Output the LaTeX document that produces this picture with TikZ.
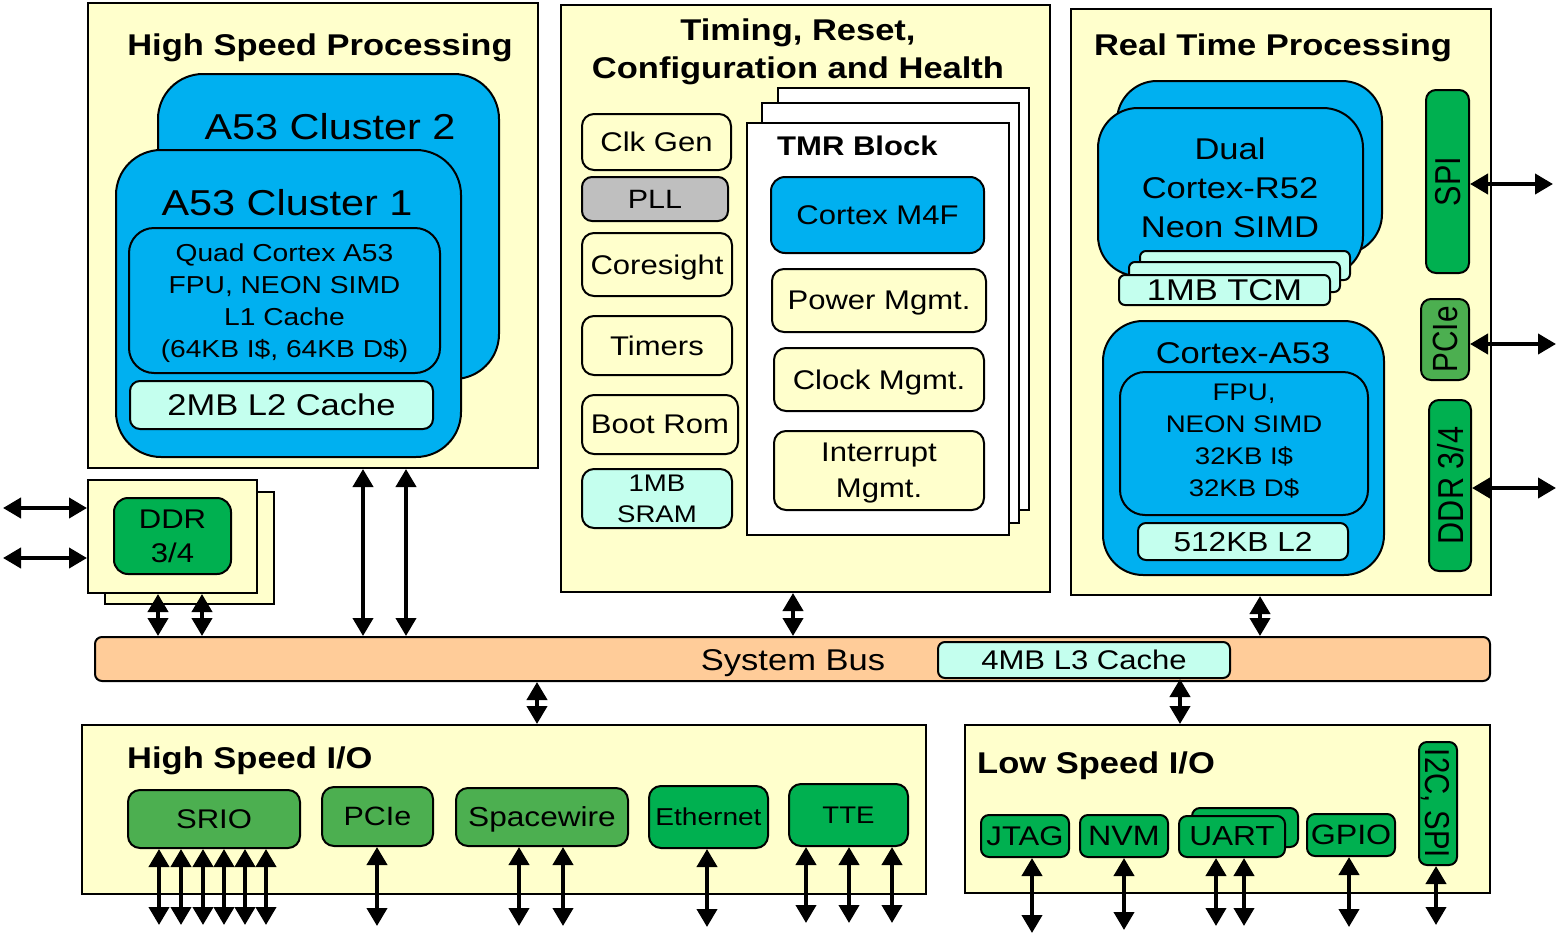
\documentclass[tikz,border=0pt]{standalone}
\usepackage{fontspec}
\setmainfont{Liberation Sans}[FakeStretch=1.15]
\newfontfamily\vfont{Liberation Sans}[FakeStretch=0.85]
\usetikzlibrary{fit,arrows.meta}
\definecolor{ylw}{RGB}{255,255,204}
\definecolor{blu}{RGB}{0,176,240}
\definecolor{cyn}{RGB}{196,255,238}
\definecolor{pch}{RGB}{255,204,153}
\definecolor{grnA}{RGB}{0,176,80}
\definecolor{grnB}{RGB}{76,175,80}
\definecolor{gry}{RGB}{191,191,191}
\newcommand\fsz[2]{\fontsize{#1}{#2}\selectfont}
% box node from corners, with its text in a separate centred node
\newcommand\bx[5]{\node[#1,fit={#2}] (#3) {};\node[txt,font=#4] (#3-t) at (#3.center) {#5};}
% same, with text turned by an angle
\newcommand\vbx[6]{\node[#1,fit={#2}] (#3) {};\node[txt,rotate=#4,font=#5] (#3-t) at (#3.center) {#6};}
\begin{document}
\begin{tikzpicture}[x=1pt,y=-1pt,
  base/.style={draw=black,line width=2pt,inner sep=0pt},
  panel/.style={base,fill=ylw},
  sheet/.style={base,fill=white},
  bluebox/.style={base,fill=blu},
  cellY/.style={base,fill=ylw,rounded corners=12pt},
  cellC/.style={base,fill=cyn,rounded corners=10pt},
  cellG/.style={base,fill=grnA,rounded corners=10pt},
  cellL/.style={base,fill=grnB,rounded corners=10pt},
  txt/.style={inner sep=0pt,align=center,text depth=0pt},
  ttl/.style={txt,font=\bfseries\fsz{30}{38}},
  dbl/.style={line width=4pt,{Triangle[width=20pt,length=18pt]}-{Triangle[width=20pt,length=18pt]}},
]
\useasboundingbox (0,0) rectangle (1557,937);

% ---------------- High Speed Processing
\node[panel,fit={(88,3)(538,468)}] (hsp) {};
\node[ttl] (hspt) at (320,45) {High Speed Processing};
\node[bluebox,rounded corners=45pt,fit={(158,74)(499,379)}] (cl2) {};
\node[txt,font=\fsz{36}{40}] (cl2t) at (330,126) {A53 Cluster 2};
\node[bluebox,rounded corners=45pt,fit={(116,150)(461,457)}] (cl1) {};
\node[txt,font=\fsz{36}{40}] (cl1t) at (287,202) {A53 Cluster 1};
\bx{bluebox,rounded corners=25pt}{(129,228)(440,373)}{core}{\fsz{24.5}{32}}{Quad Cortex A53\\FPU, NEON SIMD\\L1 Cache\\(64KB I\$, 64KB D\$)}
\bx{cellC}{(130,381)(433,429)}{l2}{\fsz{30}{34}}{2MB L2 Cache}

% ---------------- DDR (left)
\node[panel,fit={(105,492)(274,604)}] (ddrb) {};
\node[panel,fit={(88,480)(257,593)}] (ddrf) {};
\bx{cellG,rounded corners=14pt}{(114,498)(231,574)}{ddr}{\fsz{27}{34}}{DDR\\3/4}

% ---------------- Timing, Reset, Configuration and Health
\node[panel,fit={(561,5)(1050,592)}] (trch) {};
\node[ttl] (trcht) at (798,49) {Timing, Reset,\\Configuration and Health};
\bx{cellY}{(582,114)(731,170)}{clk}{\fsz{27}{33}}{Clk Gen}
\bx{base,fill=gry,rounded corners=10pt}{(582,177)(728,221)}{pll}{\fsz{26.5}{33}}{PLL}
\bx{cellY}{(582,233)(732,296)}{cores}{\fsz{27}{33}}{Coresight}
\bx{cellY}{(582,316)(732,375)}{tim}{\fsz{27}{33}}{Timers}
\bx{cellY}{(582,395)(738,454)}{boot}{\fsz{27}{33}}{Boot Rom}
\bx{cellC,rounded corners=12pt}{(582,469)(732,528)}{sram}{\fsz{24}{31}}{1MB\\SRAM}
\node[sheet,fit={(778,88)(1029,510)}] (tmr3) {};
\node[sheet,fit={(762,103)(1019,523)}] (tmr2) {};
\node[sheet,fit={(747,123)(1009,535)}] (tmr1) {};
\node[txt,anchor=west,font=\bfseries\fsz{27}{33}] (tmrt) at (777,146) {TMR Block};
\bx{bluebox,rounded corners=14pt}{(771,177)(984,253)}{m4f}{\fsz{27}{33}}{Cortex M4F}
\bx{cellY}{(772,269)(986,332)}{pwr}{\fsz{27}{33}}{Power Mgmt.}
\bx{cellY}{(774,348)(984,411)}{clkm}{\fsz{27}{33}}{Clock Mgmt.}
\bx{cellY}{(774,431)(984,510)}{irq}{\fsz{27}{36}}{Interrupt\\Mgmt.}

% ---------------- Real Time Processing
\node[panel,fit={(1071,9)(1491,595)}] (rtp) {};
\node[ttl] (rtpt) at (1273,45) {Real Time Processing};
\node[bluebox,rounded corners=40pt,fit={(1117,81)(1382,254)}] (r52b) {};
\node[bluebox,rounded corners=40pt,fit={(1098,108)(1363,276)}] (r52f) {};
\node[txt,font=\fsz{30}{39}] (r52t) at (1230,188) {Dual\\Cortex-R52\\Neon SIMD};
\node[cellC,rounded corners=6pt,fit={(1140,251)(1350,280)}] (tcm3) {};
\node[cellC,rounded corners=6pt,fit={(1129,262)(1340,292)}] (tcm2) {};
\bx{cellC,rounded corners=6pt}{(1119,275)(1330,305)}{tcm1}{\fsz{30}{34}}{1MB TCM}
\node[bluebox,rounded corners=40pt,fit={(1103,321)(1384,575)}] (a53) {};
\node[txt,font=\fsz{30}{34}] (a53t) at (1243,353) {Cortex-A53};
\node[bluebox,rounded corners=25pt,fit={(1120,372)(1368,515)}] (a53i) {};
\node[txt,font=\fsz{24}{32}] (a53it) at (1244,440) {FPU,\\NEON SIMD\\32KB I\$\\32KB D\$};
\bx{cellC,rounded corners=8pt}{(1138,523)(1348,560)}{l2r}{\fsz{27.5}{32}}{512KB L2}
\vbx{cellG}{(1426,90)(1469,273)}{spi}{90}{\vfont\fsz{36}{40}}{SPI}
\vbx{cellL}{(1421,299)(1469,380)}{pcier}{90}{\vfont\fsz{35}{40}}{PCIe}
\vbx{cellG}{(1429,400)(1471,571)}{ddrr}{90}{\vfont\fsz{36}{40}}{DDR 3/4}

% ---------------- System Bus
\node[base,fill=pch,rounded corners=7pt,fit={(95,637)(1490,681)}] (bus) {};
\node[txt,font=\fsz{30}{34}] (bust) at (793,660) {System Bus};
\bx{cellC,rounded corners=7pt}{(938,642)(1230,678)}{l3}{\fsz{27}{32}}{4MB L3 Cache}

% ---------------- High Speed I/O
\node[panel,fit={(82,725)(926,894)}] (hsio) {};
\node[ttl,anchor=west] (hsiot) at (127,758) {High Speed I/O};
\bx{cellL,rounded corners=12pt}{(128,790)(300,848)}{srio}{\fsz{27}{32}}{SRIO}
\bx{cellL,rounded corners=12pt}{(322,787)(433,846)}{pcie}{\fsz{26.5}{32}}{PCIe}
\bx{cellL,rounded corners=12pt}{(456,788)(628,846)}{spw}{\fsz{27.5}{32}}{Spacewire}
\bx{cellG,rounded corners=12pt}{(649,786)(768,848)}{eth}{\fsz{24.4}{30}}{Ethernet}
\bx{cellG,rounded corners=12pt}{(789,784)(908,846)}{tte}{\fsz{24}{30}}{TTE}

% ---------------- Low Speed I/O
\node[panel,fit={(965,725)(1490,893)}] (lsio) {};
\node[ttl,anchor=west] (lsiot) at (977,763) {Low Speed I/O};
\bx{cellG,rounded corners=8pt}{(981,815)(1069,857)}{jtag}{\fsz{27}{32}}{JTAG}
\bx{cellG,rounded corners=8pt}{(1080,815)(1168,857)}{nvm}{\fsz{28}{32}}{NVM}
\node[cellG,rounded corners=8pt,fit={(1192,808)(1298,847)}] (uartb) {};
\bx{cellG,rounded corners=8pt}{(1179,816)(1285,857)}{uart}{\fsz{27.5}{32}}{UART}
\bx{cellG,rounded corners=8pt}{(1307,814)(1395,856)}{gpio}{\fsz{28}{32}}{GPIO}
\vbx{cellG,rounded corners=8pt}{(1419,742)(1457,865)}{i2c}{-90}{\vfont\fsz{34.5}{40}}{I2C, SPI}

% ---------------- Connectors
\coordinate (ddrL1) at (3,508);
\coordinate (ddrL2) at (3,558);
\draw[dbl] (ddrL1) -- (ddrL1 -| ddrf.west);
\draw[dbl] (ddrL2) -- (ddrL2 -| ddrf.west);
\draw[dbl] (158,0 |- ddrf.south) -- (158,0 |- bus.north);
\draw[dbl] (202,0 |- ddrf.south) -- (202,0 |- bus.north);
\draw[dbl] (363,0 |- hsp.south) -- (363,0 |- bus.north);
\draw[dbl] (406,0 |- hsp.south) -- (406,0 |- bus.north);
\draw[dbl] (793,0 |- trch.south) -- (793,0 |- bus.north);
\draw[dbl] (1260,0 |- rtp.south) -- (1260,0 |- bus.north);
\draw[dbl] (537,0 |- bus.south) -- (537,0 |- hsio.north);
\draw[dbl] (1180,0 |- l3.south) -- (1180,0 |- lsio.north);

\coordinate (spiE) at (1553,184);
\coordinate (pcieE) at (1556,344);
\coordinate (ddrE) at (1556,488);
\draw[dbl] (spiE -| spi.east) -- (spiE);
\draw[dbl] (pcieE -| pcier.east) -- (pcieE);
\draw[dbl] (ddrE -| ddrr.east) -- (ddrE);

\foreach \x in {159,181,203,224,245,266} {
  \coordinate (sr\x) at (\x,925);
  \draw[dbl] (sr\x |- srio.south) -- (sr\x);
}
\coordinate (pc1) at (377,926);
\draw[dbl] (pc1 |- pcie.south) -- (pc1);
\foreach \x in {519,563} {
  \coordinate (sw\x) at (\x,926);
  \draw[dbl] (sw\x |- spw.south) -- (sw\x);
}
\coordinate (et1) at (707,927);
\draw[dbl] (et1 |- eth.south) -- (et1);
\foreach \x in {806,849,892} {
  \coordinate (tt\x) at (\x,923);
  \draw[dbl] (tt\x |- tte.south) -- (tt\x);
}
\coordinate (jt1) at (1032,933);
\draw[dbl] (jt1 |- jtag.south) -- (jt1);
\coordinate (nv1) at (1124,930);
\draw[dbl] (nv1 |- nvm.south) -- (nv1);
\foreach \x in {1216,1244} {
  \coordinate (ua\x) at (\x,926);
  \draw[dbl] (ua\x |- uart.south) -- (ua\x);
}
\coordinate (gp1) at (1349,927);
\draw[dbl] (gp1 |- gpio.south) -- (gp1);
\coordinate (ic1) at (1436,925);
\draw[dbl] (ic1 |- i2c.south) -- (ic1);
\end{tikzpicture}
\end{document}
